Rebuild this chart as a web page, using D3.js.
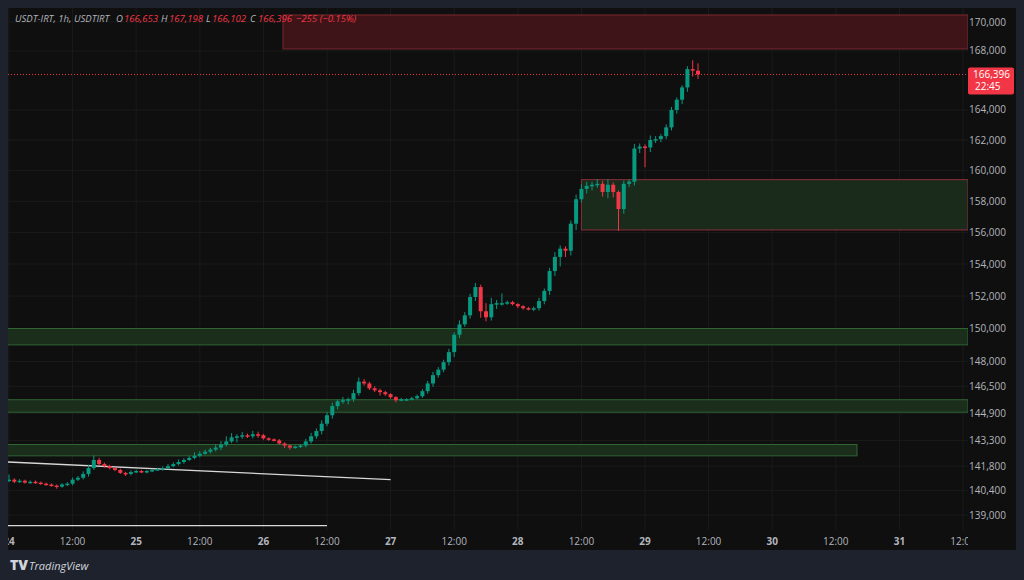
<!DOCTYPE html>
<html>
<head>
<meta charset="utf-8">
<script src="https://cdn.jsdelivr.net/npm/d3@7"></script>
<style>
  body { margin: 0; background: #1e222d; }
  svg { display: block; font-family: "Open Sans", "DejaVu Sans", sans-serif; }
</style>
</head>
<body>
<svg id="chart" width="1024" height="580"></svg>
<script>
// hourly closes, first candle at hour -1 (23rd, 23:00)
const closes = [
  140960, 141020, 140900, 140960, 140850, 140900, 140850, 140790, 140740, 140680,
  140620, 140740, 140790, 141020, 141130, 141350, 141690, 142160, 141920, 141800,
  141690, 141580, 141410, 141350, 141460, 141520, 141460, 141520, 141580, 141630,
  141690, 141800, 141920, 142040, 142160, 142280, 142400, 142520, 142640, 142760,
  142880, 143060, 143240, 143480, 143540, 143600, 143540, 143660, 143600, 143420,
  143360, 143300, 143120, 143000, 142880, 142940, 143000, 143240, 143540, 143850,
  144280, 144780, 145320, 145610, 145670, 145730, 146090, 146780, 146670, 146380,
  146260, 146150, 146030, 145850, 145670, 145730, 145730, 145790, 145910, 146210,
  146670, 147170, 147500, 147950, 148560, 149620, 150250, 150810, 151940, 152560,
  151060, 150690, 151500, 151560, 151560, 151620, 151500, 151370, 151250, 151190,
  151250, 151690, 152320, 153560, 154450, 154970, 154840, 156560, 158130, 158800,
  159000, 159070, 159130, 158600, 159070, 158600, 157500, 159130, 159270, 161440,
  161570, 161510, 162000, 162060, 162260, 162840, 164000, 164690, 165520, 166760,
  166653, 166396
]
const firstOpen = 140900
const wickUp = [
  120, 300, 80, 90, 60, 80, 70, 60, 60, 60, 60, 80, 90, 120, 100, 150, 200, 260, 120, 90,
  80, 70, 80, 60, 100, 80, 60, 60, 70, 80, 90, 120, 100, 150, 100, 120, 200, 150, 120, 100,
  180, 200, 300, 250, 120, 200, 100, 200, 150, 80, 60, 60, 80, 70, 60, 60, 80, 150, 200, 150,
  200, 180, 200, 100, 200, 100, 200, 250, 150, 100, 120, 100, 80, 60, 60, 80, 60, 80, 100, 120,
  150, 200, 150, 150, 200, 150, 250, 200, 200, 250, 150, 500, 400, 200, 600, 100, 80, 60, 60, 80,
  100, 200, 150, 200, 300, 200, 150, 200, 300, 300, 250, 200, 300, 200, 350, 150, 100, 200, 150, 300,
  200, 150, 300, 200, 150, 200, 200, 150, 150, 200, 600, 500
]
const wickDown = [
  100, 80, 80, 60, 60, 60, 70, 60, 60, 60, 120, 60, 80, 100, 80, 100, 150, 100, 80, 100,
  80, 70, 60, 120, 80, 60, 60, 80, 70, 60, 100, 80, 60, 80, 100, 60, 80, 80, 60, 100,
  100, 150, 120, 100, 300, 150, 100, 120, 150, 80, 80, 60, 60, 150, 120, 60, 80, 100, 120, 150,
  200, 150, 200, 200, 150, 250, 150, 150, 120, 100, 100, 200, 100, 100, 120, 60, 80, 60, 80, 100,
  150, 200, 150, 150, 200, 300, 200, 150, 200, 250, 400, 250, 200, 300, 150, 100, 80, 120, 100, 80,
  120, 150, 200, 250, 300, 600, 400, 300, 400, 200, 300, 300, 200, 300, 400, 350, 1400, 300, 200, 250,
  300, 1300, 300, 200, 200, 200, 200, 250, 300, 300, 400, 300
]
const priceTicks = [170000, 168000, 164000, 162000, 160000, 158000, 156000, 154000, 152000, 150000, 148000, 146500, 144900, 143300, 141800, 140400, 139000]
const timeLabels = ['24', '12:00', '25', '12:00', '26', '12:00', '27', '12:00', '28', '12:00', '29', '12:00', '30', '12:00', '31', '12:00']
// zones: [startHour, endHour|null (to right edge), top price, bottom price, kind]
const zones = [
  [51.7, null, 170490, 168140, 'red'],
  [108, null, 159400, 156160, 'redgreen'],
  [null, null, 150000, 149000, 'green'],
  [null, null, 145700, 144960, 'green'],
  [null, 160, 143060, 142400, 'green']
]
const trendLine = [[-0.2, 142040], [72, 141020]]
const flatLine = [[-0.2, 138400], [60, 138400]]
const lastPrice = 166396

const svg = d3.select('#chart')
const plot = {left: 8, right: 968, top: 8, bottom: 530}

const x = d3.scaleLinear().domain([0, 24]).range([9, 136.2])
const y = d3.scaleLog().domain([170000, 139000]).range([22, 515])

svg.append('rect').attr('x', plot.left).attr('y', plot.top)
  .attr('width', 1016 - plot.left).attr('height', 550 - plot.top).attr('fill', '#0f0f0f')

svg.append('defs').append('clipPath').attr('id', 'clip')
  .append('rect').attr('x', plot.left).attr('y', plot.top)
  .attr('width', plot.right - plot.left).attr('height', plot.bottom - plot.top)

const g = svg.append('g').attr('clip-path', 'url(#clip)')

// grid
g.selectAll('.hgrid').data(priceTicks).join('line')
  .attr('x1', plot.left).attr('x2', plot.right)
  .attr('y1', d => y(d)).attr('y2', d => y(d))
  .attr('stroke', '#1b1b1b')
g.selectAll('.vgrid').data(timeLabels).join('line')
  .attr('x1', (d, i) => x(i * 12)).attr('x2', (d, i) => x(i * 12))
  .attr('y1', plot.top).attr('y2', plot.bottom)
  .attr('stroke', '#1b1b1b')

// zones
const zoneStyle = {
  red: {fill: '#3e1418', stroke: '#7a2830'},
  redgreen: {fill: '#1a2b1c', stroke: '#8a2f3a'},
  green: {fill: '#1a2e1b', stroke: '#2f6433'}
}
g.selectAll('.zone').data(zones).join('rect')
  .attr('x', d => d[0] === null ? plot.left - 1 : x(d[0]))
  .attr('width', d => (d[1] === null ? plot.right : x(d[1])) - (d[0] === null ? plot.left - 1 : x(d[0])))
  .attr('y', d => y(d[2]))
  .attr('height', d => y(d[3]) - y(d[2]))
  .attr('fill', d => zoneStyle[d[4]].fill)
  .attr('stroke', d => zoneStyle[d[4]].stroke)

// drawn lines
const line = d3.line().x(d => x(d[0])).y(d => y(d[1]))
g.append('path').attr('d', line(trendLine)).attr('stroke', '#d8d8d8').attr('stroke-width', 1.3).attr('fill', 'none')
g.append('path').attr('d', line(flatLine)).attr('stroke', '#d8d8d8').attr('stroke-width', 1.3).attr('fill', 'none')

// last price dotted line
g.append('line').attr('x1', plot.left).attr('x2', plot.right)
  .attr('y1', y(lastPrice)).attr('y2', y(lastPrice))
  .attr('stroke', '#f23645').attr('stroke-dasharray', '1,2')

// candles
const candles = closes.map((c, i) => {
  const o = i === 0 ? firstOpen : closes[i - 1]
  return {h: i - 1, o, c, hi: Math.max(o, c) + wickUp[i], lo: Math.min(o, c) - wickDown[i]}
})
const up = '#089981', down = '#f23645'
const cg = g.append('g')
cg.selectAll('.wick').data(candles).join('line')
  .attr('x1', d => x(d.h)).attr('x2', d => x(d.h))
  .attr('y1', d => y(d.hi)).attr('y2', d => y(d.lo))
  .attr('stroke', d => d.c >= d.o ? up : down)
cg.selectAll('.body').data(candles).join('rect')
  .attr('x', d => x(d.h) - 2).attr('width', 4)
  .attr('y', d => y(Math.max(d.o, d.c)))
  .attr('height', d => Math.max(1.5, Math.abs(y(d.o) - y(d.c))))
  .attr('fill', d => d.c >= d.o ? up : down)

// right axis labels
svg.selectAll('.ylab').data(priceTicks).join('text')
  .attr('x', 1006).attr('y', d => y(d) + 3.5)
  .attr('text-anchor', 'end').attr('font-size', 10).attr('fill', '#b2b5be')
  .text(d => d3.format(',')(d))

// last price tag
svg.append('rect').attr('x', 968).attr('y', y(lastPrice) - 7).attr('width', 46).attr('height', 27)
  .attr('rx', 2).attr('fill', '#f23645')
svg.append('text').attr('x', 1010).attr('y', y(lastPrice) + 4).attr('text-anchor', 'end')
  .attr('font-size', 10).attr('fill', '#fff').text(d3.format(',')(lastPrice))
svg.append('text').attr('x', 975).attr('y', y(lastPrice) + 16)
  .attr('font-size', 10).attr('fill', '#fff').text('22:45')

// bottom axis labels
const xl = svg.append('g')
xl.append('clipPath').attr('id', 'xclip').append('rect').attr('x', plot.left).attr('y', 530).attr('width', 960).attr('height', 20)
xl.append('g').attr('clip-path', 'url(#xclip)')
  .selectAll('text').data(timeLabels).join('text')
  .attr('x', (d, i) => x(i * 12)).attr('y', 545)
  .attr('text-anchor', 'middle').attr('font-size', 10)
  .attr('font-weight', d => d.includes(':') ? 400 : 700)
  .attr('fill', '#b2b5be').text(d => d)

// header
const hdr = svg.append('g').attr('font-size', 9.6).attr('font-style', 'italic')
const hdrItems = [
  [15, '#b2b5be', 'USDT-IRT, 1h, USDTIRT'],
  [116, '#b2b5be', 'O'], [124, '#f23645', '166,653'],
  [161, '#b2b5be', 'H'], [169, '#f23645', '167,198'],
  [206, '#b2b5be', 'L'], [212, '#f23645', '166,102'],
  [250, '#b2b5be', 'C'], [258, '#f23645', '166,396'],
  [296, '#f23645', '−255 (−0.15%)']
]
hdr.selectAll('text').data(hdrItems).join('text')
  .attr('x', d => d[0]).attr('y', 22).attr('fill', d => d[1]).text(d => d[2])

// footer logo
svg.append('text').attr('x', 10).attr('y', 570).attr('font-size', 14).attr('font-weight', 800)
  .attr('fill', '#d1d4dc').text('TV')
svg.append('text').attr('x', 29).attr('y', 570).attr('font-size', 11).attr('font-style', 'italic')
  .attr('fill', '#d1d4dc').text('TradingView')
</script>
</body>
</html>
